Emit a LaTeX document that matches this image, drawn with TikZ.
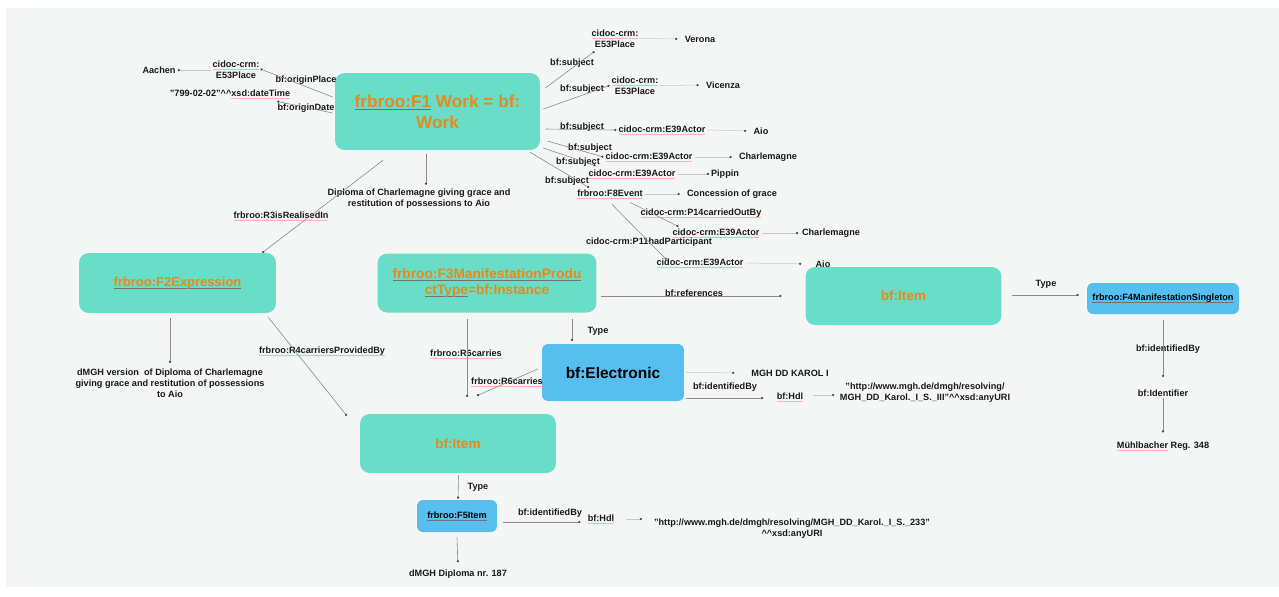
\documentclass[tikz,border=0pt]{standalone}
\usepackage{fontspec}
\setmainfont{Liberation Sans}
\usetikzlibrary{arrows.meta, positioning, calc}
\definecolor{Mint}{HTML}{68DEC9}
\definecolor{Sky}{HTML}{57BEF0}
\definecolor{Amber}{HTML}{E88919}
\definecolor{Paper}{HTML}{F4F6F6}

\newsavebox{\ulbox}
\newcommand{\redul}[1]{\sbox{\ulbox}{#1}\rlap{\color{red!30}\rule[-1.1pt]{\wd\ulbox}{0.25pt}}\usebox{\ulbox}}
\newcommand{\grayul}[1]{\sbox{\ulbox}{#1}\rlap{\color{black!55}\rule[-1.3pt]{\wd\ulbox}{0.4pt}}\usebox{\ulbox}}
\newcommand{\cc}{\textasciicircum\textasciicircum}

\begin{document}
\begin{tikzpicture}[
    x=0.02cm, y=-0.02cm,
    box/.style={
        rounded corners=5.5pt,
        fill=Mint,
        text=Amber,
        align=center,
        inner sep=0pt
    },
    bluebox/.style={
        rounded corners=3.5pt,
        fill=Sky,
        text=black,
        align=center,
        inner sep=0pt
    },
    lbl/.style={
        font=\fontsize{5.2}{6.3}\selectfont\bfseries,
        text=black!90,
        inner sep=1pt,
        align=center
    },
    edge/.style={
        draw=black!45,
        line width=0.35pt,
        -{Circle[length=1.3pt, color=black!70]}
    },
    faint/.style={
        draw=black!22,
        line width=0.3pt,
        -{Circle[length=1.3pt, color=black!70]},
        shorten >=3pt
    }
]

\useasboundingbox (0,0) rectangle (1279,596);
\fill[Paper] (6,8) rectangle (1279,587);

% =========================
% BOXES
% =========================
\node[box, minimum width=4.1cm, minimum height=1.54cm,
    font=\fontsize{9.8}{11.8}\selectfont\bfseries]
    (f1) at (437.5,111.5) {\grayul{frbroo:F1} Work = bf:\\Work};
\node[box, minimum width=3.94cm, minimum height=1.2cm,
    font=\fontsize{7.4}{9}\selectfont\bfseries]
    (f2) at (177.5,283) {\grayul{frbroo:F2Expression}};
\node[box, minimum width=4.38cm, minimum height=1.18cm,
    font=\fontsize{7.8}{9.2}\selectfont\bfseries]
    (f3) at (487,283) {\grayul{frbroo:F3ManifestationProdu}\\\grayul{ctType}=bf:Instance};
\node[box, minimum width=3.92cm, minimum height=1.16cm,
    font=\fontsize{7.7}{9}\selectfont\bfseries]
    (item_r) at (903.5,296) {bf:Item};
\node[box, minimum width=3.92cm, minimum height=1.18cm,
    font=\fontsize{7.7}{9}\selectfont\bfseries]
    (item_b) at (458,443.5) {bf:Item};
\node[bluebox, minimum width=2.84cm, minimum height=1.14cm,
    font=\fontsize{8.8}{10}\selectfont\bfseries]
    (elec) at (613,372.5) {bf:Electronic};
\node[bluebox, minimum width=3.04cm, minimum height=0.62cm,
    font=\fontsize{5.2}{6}\selectfont\bfseries]
    (f4) at (1163,298.5) {\grayul{frbroo:F4ManifestationSingleton}};
\node[bluebox, minimum width=1.6cm, minimum height=0.64cm,
    font=\fontsize{5.2}{6}\selectfont\bfseries]
    (f5) at (457,516) {\grayul{frbroo:F5Item}};

% =========================
% VALUES
% =========================
\node[lbl] (aachen) at (159,70) {Aachen};
\node[lbl] (place_o) at (236,70) {\redul{cidoc-crm:}\\E53Place};
\node[lbl] (date_o) at (230,94) {"799-02-02"\cc\redul{xsd:dateTime}};

\node[lbl] (place_v) at (615,38.5) {\redul{cidoc-crm:}\\E53Place};
\node[lbl] (verona) at (700,39) {Verona};
\node[lbl] (place_vi) at (635,85.5) {\redul{cidoc-crm:}\\E53Place};
\node[lbl] (vicenza) at (723,85) {Vicenza};
\node[lbl] (actor_aio) at (662,130) {\redul{cidoc-crm:E39Actor}};
\node[lbl] (aio) at (761,131) {Aio};
\node[lbl] (actor_ch) at (649,157) {\redul{cidoc-crm:E39Actor}};
\node[lbl] (charl) at (768,157) {Charlemagne};
\node[lbl] (actor_pi) at (632,174) {\redul{cidoc-crm:E39Actor}};
\node[lbl] (pippin) at (725,174) {Pippin};
\node[lbl] (event) at (610,194) {\redul{frbroo:F8Event}};
\node[lbl] (concession) at (732,194) {Concession of grace};
\node[lbl] (actor_ch2) at (716,233) {\redul{cidoc-crm:E39Actor}};
\node[lbl] (charl2) at (831,233) {Charlemagne};
\node[lbl] (actor_aio2) at (700,263) {\redul{cidoc-crm:E39Actor}};
\node[lbl] (aio2) at (823,264) {Aio};

\node[lbl] (diploma) at (419,198.5)
    {Diploma of Charlemagne giving grace and\\restitution of possessions to Aio};
\node[lbl] (dmgh_version) at (170,383)
    {dMGH version \ of Diploma of Charlemagne\\giving grace and restitution of possessions\\to Aio};

\node[lbl] (mgh_karol) at (790,373) {MGH DD KAROL I};
\node[lbl] (hdl_e) at (790,397) {\redul{bf:Hdl}};
\node[lbl] (url_e) at (925,393)
    {"http://www.mgh.de/dmgh/resolving/\\MGH\_DD\_Karol.\_I\_S.\_III"\cc xsd:anyURI};

\node[lbl] (identifier) at (1163,393) {bf:Identifier};
\node[lbl] (muehl) at (1163,446) {\redul{Mühlbacher} Reg. 348};

\node[lbl] (hdl_f5) at (601,519) {\redul{bf:Hdl}};
\node[lbl] (url_f5) at (792,529)
    {"http://www.mgh.de/dmgh/resolving/MGH\_DD\_Karol.\_I\_S.\_233"\\\cc xsd:anyURI};
\node[lbl] (dmgh_nr) at (458,574) {dMGH Diploma nr. 187};

% =========================
% EDGE LABELS
% =========================
\node[lbl] (l_oplace) at (306,80) {bf:originPlace};
\node[lbl] (l_odate) at (306,108) {bf:originDate};
\node[lbl] (l_s1) at (572,63) {bf:subject};
\node[lbl] (l_s2) at (582,89) {bf:subject};
\node[lbl] (l_s3) at (582,127) {bf:subject};
\node[lbl] (l_s4) at (590,148) {bf:subject};
\node[lbl] (l_s5) at (578,162) {bf:subject};
\node[lbl] (l_s6) at (567,181) {bf:subject};
\node[lbl] (l_p14) at (701,213) {\redul{cidoc-crm:P14carriedOutBy}};
\node[lbl] (l_p11) at (649,242) {cidoc-crm:P11hadParticipant};
\node[lbl] (l_r3) at (281,216) {\redul{frbroo:R3isRealisedIn}};
\node[lbl, anchor=west] (l_r4) at (257,351) {\redul{frbroo:R4carriersProvidedBy}};
\node[lbl] (l_r6a) at (466,354) {\redul{frbroo:R6carries}};
\node[lbl] (l_r6b) at (507,382) {\redul{frbroo:R6carries}};
\node[lbl] (l_type1) at (598,331) {Type};
\node[lbl] (l_refs) at (694,293) {bf:references};
\node[lbl] (l_type2) at (1046,284) {Type};
\node[lbl] (l_idby_e) at (725,387) {bf:identifiedBy};
\node[lbl] (l_idby_f4) at (1168,349) {bf:identifiedBy};
\node[lbl] (l_type3) at (478,487) {Type};
\node[lbl] (l_idby_f5) at (550,513) {bf:identifiedBy};

% =========================
% CONNECTORS
% =========================
% work, left side
\draw[edge] ($(f1.west)+(-2,-14.5)$) -- ($(place_o.east)+(-1,-1)$);
\draw[edge] ($(f1.west)+(-2,1.5)$) -- ($(date_o.south east)+(-15,1)$);
\draw[faint, shorten >=0pt] (place_o.west) -- (aachen.east);

% work, subjects
\draw[edge] ($(f1.east)+(5,-23.5)$) -- ($(place_v.south west)+(5,2)$);
\draw[edge] ($(f1.east)+(3,-2.5)$) -- (place_vi.west);
\draw[edge] ($(f1.east)+(5,17.5)$) -- (actor_aio.west);
\draw[edge] ($(f1.east)+(7,29.5)$) -- (actor_ch.west);
\draw[edge] ($(f1.east)+(3,36.5)$) -- ($(actor_pi.north west)+(9,-2)$);
\draw[edge] ($(f1.south east)+(-10,2)$) -- ($(event.north west)+(14,0)$);

\draw[faint] (place_v.east) -- (verona.west);
\draw[faint] (place_vi.east) -- (vicenza.west);
\draw[faint] (actor_aio.east) -- (aio.west);
\draw[faint] (actor_ch.east) -- (charl.west);
\draw[faint, shorten >=0pt] (actor_pi.east) -- (pippin.west);
\draw[faint] (event.east) -- (concession.west);

% event
\draw[edge] ($(event.south)+(20,2)$) -- ($(actor_ch2.north west)+(8,0)$);
\draw[edge] ($(event.south)+(2,4)$) -- ($(actor_aio2.north west)+(12,3)$);
\draw[faint, shorten >=1pt] (actor_ch2.east) -- (charl2.west);
\draw[faint, shorten >=7pt] (actor_aio2.east) -- (aio2.west);

% work, bottom
\draw[edge] ($(f1.south)+(-54.5,10)$) -- ($(f2.north east)+(-14,0)$);
\coordinate (dp) at ($(f1.south)+(-11.5,4)$);
\draw[edge, shorten >=1pt] (dp) -- (dp |- diploma.north);

% expression
\coordinate (ev) at ($(f2.south)+(-7.5,5)$);
\draw[edge, shorten >=2pt] (ev) -- (ev |- dmgh_version.north);
\draw[edge] ($(f2.south east)+(-8,4)$) -- ($(item_b.north west)+(-13,2)$);

% manifestation
\coordinate (r6) at ($(f3.south)+(-20,6)$);
\draw[edge, shorten >=9.5pt] (r6) -- (r6 |- item_b.north);
\coordinate (ty) at ($(f3.south)+(85,6)$);
\draw[edge, shorten >=1.5pt] (ty) -- (ty |- elec.north);
\coordinate (rf) at ($(f3.east)+(4,13)$);
\draw[edge, shorten >=13.5pt] (rf) -- (rf -| item_r.west);

% electronic
\draw[edge] ($(elec.west)+(-4,-3.5)$) -- ($(item_b.north)+(19,-18)$);
\draw[faint, shorten >=8.5pt] ($(elec.east)+(2,0)$) -- (mgh_karol.west);
\coordinate (eh) at ($(elec.east)+(2,25.5)$);
\draw[edge, shorten >=6.5pt] (eh) -- (eh -| hdl_e.west);
\draw[faint, shorten >=2pt] ($(hdl_e.east)+(8,-2)$) -- ($(url_e.west)+(0,2)$);

% item, right
\draw[edge] ($(item_r.east)+(10,-1)$) -- ($(f4.west)+(-8,-3.5)$);
\draw[edge, shorten >=6pt] ($(f4.south)+(0,6)$) -- (identifier.north);
\draw[edge, shorten >=4pt] (identifier.south) -- (muehl.north);

% item, bottom
\draw[edge] ($(item_b.south)+(0.5,2)$) -- ($(f5.north)+(1,-1)$);
\coordinate (fh) at ($(f5.east)+(6,6)$);
\draw[edge, shorten >=3pt] (fh) -- (fh -| hdl_f5.west);
\draw[faint, shorten >=0pt] ($(hdl_f5.east)+(10,0)$) -- ($(url_f5.west)+(-10,-10)$);
\draw[edge, shorten >=3pt] ($(f5.south)+(0,5)$) -- (dmgh_nr.north);

\end{tikzpicture}
\end{document}
